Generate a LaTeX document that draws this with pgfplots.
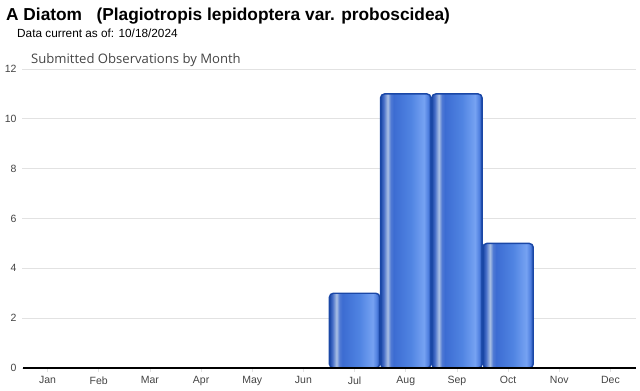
\documentclass[border=0pt]{standalone}
\usepackage{pgfplots}
\pgfplotsset{compat=1.18}
\usepackage{fontspec}
\setmainfont{Liberation Sans}
\newfontfamily\lightfont{Open Sans}
\definecolor{tickgray}{HTML}{444444}
\definecolor{gridgray}{HTML}{E2E2E2}
\definecolor{bardark}{HTML}{1A47A6}
\pgfdeclarehorizontalshading{barshade}{100bp}{
  color(0bp)=(bardark);
  color(25bp)=(bardark);
  color(28bp)=({rgb,255:red,70;green,110;blue,200});
  color(32bp)=({rgb,255:red,170;green,192;blue,228});
  color(35bp)=({rgb,255:red,80;green,122;blue,212});
  color(38bp)=({rgb,255:red,60;green,108;blue,210});
  color(55bp)=({rgb,255:red,80;green,132;blue,226});
  color(68bp)=({rgb,255:red,118;green,162;blue,242});
  color(72bp)=({rgb,255:red,80;green,128;blue,224});
  color(75bp)=(bardark);
  color(100bp)=(bardark)}
\pgfplotsset{mybar/.style={ybar, bar width=0.985, bar shift=0pt, draw=bardark, line width=1.4bp, shading=barshade, rounded corners=4bp}}
\begin{document}
\begin{tikzpicture}[x=1bp,y=1bp]
\path[use as bounding box] (0,0) rectangle (640,390);
\node[anchor=base west,inner sep=0pt,font=\fontsize{17.3bp}{19bp}\selectfont\bfseries] at (6,370) {A Diatom\ \ \ (Plagiotropis lepidoptera var. proboscidea)};
\node[anchor=base west,inner sep=0pt,font=\fontsize{11.8bp}{13bp}\selectfont] at (17,353) {Data current as of: 10/18/2024};
\node[anchor=base west,inner sep=0pt,font=\fontsize{13.1bp}{15bp}\lightfont,text=tickgray] at (31,327) {Submitted Observations by Month};
\begin{axis}[
  at={(22bp,22bp)}, anchor=south west,
  scale only axis, width=614bp, height=299bp,
  xmin=-0.5, xmax=11.5, ymin=0, ymax=12,
  axis line style={draw=none},
  ytick={0,2,...,12},
  xtick={0,...,11},
  xticklabels={Jan,Feb,Mar,Apr,May,Jun,Jul,Aug,Sep,Oct,Nov,Dec},
  ymajorgrids, grid style={gridgray, line width=0.8bp},
  major tick length=4bp,
  xtick style={draw=gridgray, line width=0.8bp},
  ytick style={draw=none},
  xtick pos=bottom,
  x tick label style={font=\fontsize{10.5bp}{12bp}\selectfont, text=tickgray, yshift=-1bp},
  y tick label style={font=\fontsize{10.5bp}{12bp}\selectfont, text=tickgray, xshift=2bp},
  /pgf/number format/assume math mode=true,
  tick align=outside,
  clip=false,
]
\addplot[mybar] coordinates {(6,3)};
\addplot[mybar] coordinates {(7,11)};
\addplot[mybar] coordinates {(8,11)};
\addplot[mybar] coordinates {(9,5)};
\draw[black, line width=1.5bp] (axis cs:-0.48,0) -- (axis cs:11.5,0);
\end{axis}
\end{tikzpicture}
\end{document}
